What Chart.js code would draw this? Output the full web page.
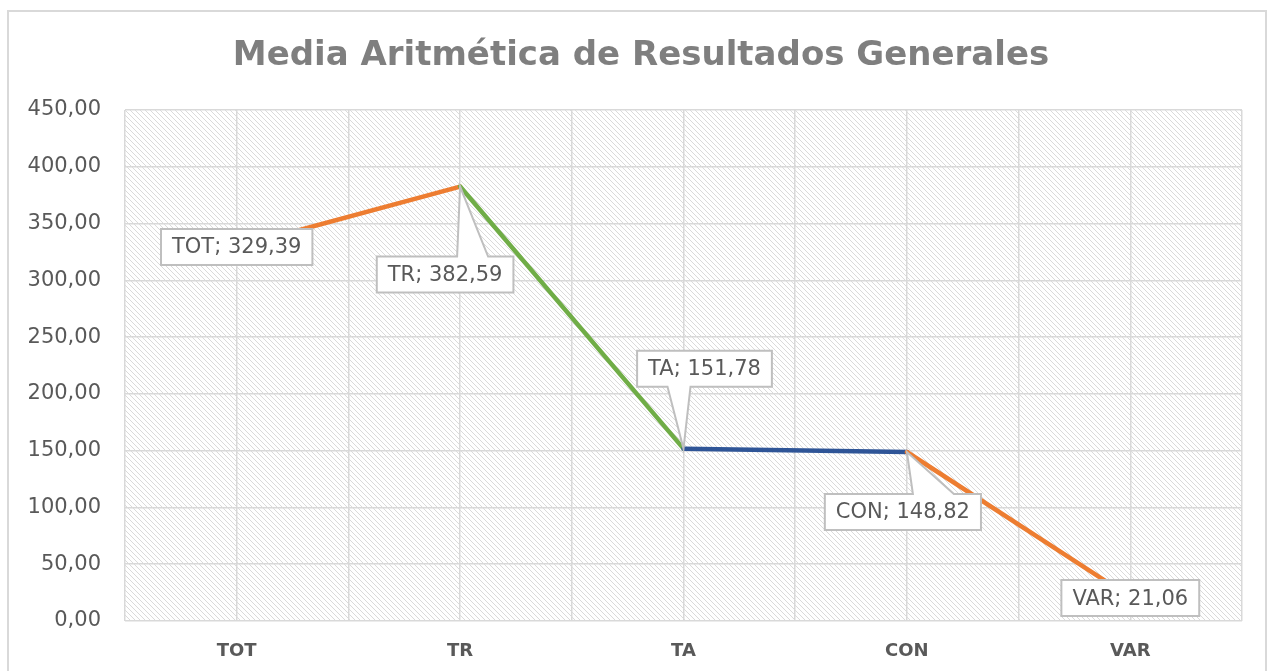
<!DOCTYPE html>
<html>
<head>
<meta charset="utf-8">
<script src="https://cdn.jsdelivr.net/npm/chart.js@4"></script>
<style>
  html, body { margin: 0; padding: 0; background: #fff; }
  #wrap { width: 1277px; height: 671px; }
</style>
</head>
<body>
<div id="wrap"><canvas id="chart"></canvas></div>
<script>
// Chart values
const categories = ['TOT', 'TR', 'TA', 'CON', 'VAR'];
const values = [329.39, 382.59, 151.78, 148.82, 21.06];
const yMin = 0, yMax = 450, yStep = 50;

// Styling
const segmentColors = ['#ED7D31', '#70AD47', '#2F5597', '#ED7D31'];
// label box offset from its point (px) and callout base relative to point x
const callouts = [
    { dx: 0, dy: 0, base: null },
    { dx: -15, dy: 88, base: [-3, 28] },
    { dx: 21, dy: -80, base: [-16, 7] },
    { dx: -4, dy: 60, base: [6, 47] },
    { dx: 0, dy: 1, base: null }
];

const fmt = v => v.toFixed(2).replace('.', ',');

// diagonal hatch used for the plot area
function makeHatch() {
    const c = document.createElement('canvas');
    c.width = 5; c.height = 5;
    const g = c.getContext('2d');
    g.fillStyle = '#fff';
    g.fillRect(0, 0, 5, 5);
    g.fillStyle = '#dadada';
    for (let i = 0; i < 5; i++) g.fillRect(i, i, 1, 1);
    return c;
}

const backgroundPlugin = {
    id: 'background',
    beforeDraw(chart) {
        const ctx = chart.ctx;
        const a = chart.chartArea;
        ctx.save();
        // outer frame
        ctx.strokeStyle = '#d9d9d9';
        ctx.lineWidth = 2;
        ctx.strokeRect(8, 11, 1258, 700);
        // hatched plot area
        ctx.fillStyle = ctx.createPattern(makeHatch(), 'repeat');
        ctx.fillRect(a.left, a.top, a.right - a.left, a.bottom - a.top);
        // title
        ctx.fillStyle = '#7f7f7f';
        ctx.font = 'bold 34px "DejaVu Sans"';
        ctx.textAlign = 'center';
        ctx.textBaseline = 'middle';
        ctx.fillText('Media Aritmética de Resultados Generales', 641, 56);
        ctx.restore();
    }
};

const calloutPlugin = {
    id: 'callouts',
    afterDatasetsDraw(chart) {
        const ctx = chart.ctx;
        const meta = chart.getDatasetMeta(0);
        ctx.save();
        ctx.font = '21px "DejaVu Sans"';
        ctx.textAlign = 'center';
        ctx.textBaseline = 'middle';
        meta.data.forEach((pt, i) => {
            const c = callouts[i];
            const text = categories[i] + '; ' + fmt(values[i]);
            const w = ctx.measureText(text).width + 22;
            const h = 36;
            const cx = pt.x + c.dx, cy = pt.y + c.dy;
            const l = cx - w / 2, r = cx + w / 2, t = cy - h / 2, b = cy + h / 2;
            ctx.beginPath();
            ctx.moveTo(l, t);
            if (c.base && c.dy > 0) {
                ctx.lineTo(pt.x + c.base[0], t);
                ctx.lineTo(pt.x, pt.y);
                ctx.lineTo(pt.x + c.base[1], t);
            }
            ctx.lineTo(r, t);
            ctx.lineTo(r, b);
            if (c.base && c.dy < 0) {
                ctx.lineTo(pt.x + c.base[1], b);
                ctx.lineTo(pt.x, pt.y);
                ctx.lineTo(pt.x + c.base[0], b);
            }
            ctx.lineTo(l, b);
            ctx.closePath();
            ctx.fillStyle = '#fff';
            ctx.fill();
            ctx.strokeStyle = '#bfbfbf';
            ctx.lineWidth = 2;
            ctx.stroke();
            ctx.fillStyle = '#595959';
            ctx.fillText(text, cx, cy + 1);
        });
        ctx.restore();
    }
};

new Chart(document.getElementById('chart'), {
    type: 'line',
    data: {
        datasets: [{
            data: values.map((v, i) => ({ x: i, y: v })),
            borderWidth: 4.5,
            pointRadius: 0,
            borderCapStyle: 'round',
            segment: {
                borderColor: ctx => segmentColors[ctx.p0DataIndex]
            },
            borderColor: segmentColors[0]
        }]
    },
    options: {
        responsive: true,
        maintainAspectRatio: false,
        animation: false,
        layout: { padding: { top: 110, right: 35, bottom: 0, left: 0 } },
        plugins: {
            legend: { display: false },
            tooltip: { enabled: false }
        },
        scales: {
            x: {
                type: 'linear',
                min: -0.5,
                max: categories.length - 0.5,
                afterBuildTicks: scale => {
                    const t = [];
                    for (let v = -0.5; v <= categories.length - 0.5; v += 0.5) t.push({ value: v });
                    scale.ticks = t;
                },
                afterFit: scale => { scale.height = 50; },
                grid: { color: '#d9d9d9', lineWidth: 1.5, drawTicks: false },
                border: { display: false },
                ticks: {
                    autoSkip: false,
                    maxRotation: 0,
                    padding: 20,
                    color: '#595959',
                    font: { family: 'DejaVu Sans', size: 18, weight: 'bold' },
                    callback: v => Number.isInteger(v) ? categories[v] : ''
                }
            },
            y: {
                min: yMin,
                max: yMax,
                afterFit: scale => { scale.width = 125; },
                grid: { color: '#d9d9d9', lineWidth: 1.5, drawTicks: false },
                border: { display: false },
                ticks: {
                    stepSize: yStep,
                    padding: 24,
                    color: '#595959',
                    font: { family: 'DejaVu Sans', size: 21 },
                    callback: v => fmt(v)
                }
            }
        }
    },
    plugins: [backgroundPlugin, calloutPlugin]
});
</script>
</body>
</html>
